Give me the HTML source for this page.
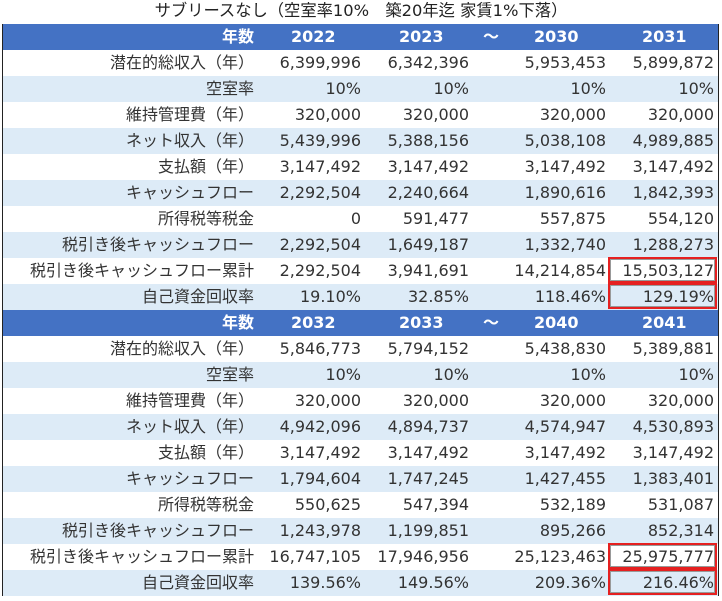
<!DOCTYPE html>
<html><head><meta charset="utf-8"><style>
body{margin:0;width:722px;height:601px;background:#fff;font-family:"DejaVu Sans","Noto Sans CJK JP",sans-serif;position:relative;overflow:hidden}
.t{position:absolute;left:0;width:722px;top:0px;text-align:center;font-size:16.3px;color:#222;line-height:21px}
.tb{position:absolute;left:2px;top:24px;width:715px;border-left:1.5px solid #222;border-right:1.5px solid #222}
.r{position:relative;height:26px;font-size:16px;line-height:26px;color:#333}
.r span{position:absolute;text-align:right;white-space:nowrap}
.a{right:calc(715px - 251px)}.b{right:calc(715px - 358px)}.c{right:calc(715px - 466px)}.d{right:calc(715px - 603px)}.e{right:calc(715px - 711px)}
.h{background:#4472C4;color:#fff;font-weight:bold}
.h span{text-align:left}
.z{background:#DDEBF7}
.box{position:absolute;border:2px solid #e52020;box-shadow:inset 0 0 0 1px #999}
</style></head><body>
<div class="t">サブリースなし（空室率10%　築20年迄 家賃1%下落）</div>
<div class="tb">
<div class="r h"><span class="a">年数</span><span style="left:288px">2022</span><span style="left:396px">2023</span><span style="left:480px">～</span><span style="left:531px">2030</span><span style="left:639px">2031</span></div>
<div class="r"><span class="a">潜在的総収入（年）</span><span class="b">6,399,996</span><span class="c">6,342,396</span><span class="d">5,953,453</span><span class="e">5,899,872</span></div>
<div class="r z"><span class="a">空室率</span><span class="b">10%</span><span class="c">10%</span><span class="d">10%</span><span class="e">10%</span></div>
<div class="r"><span class="a">維持管理費（年）</span><span class="b">320,000</span><span class="c">320,000</span><span class="d">320,000</span><span class="e">320,000</span></div>
<div class="r z"><span class="a">ネット収入（年）</span><span class="b">5,439,996</span><span class="c">5,388,156</span><span class="d">5,038,108</span><span class="e">4,989,885</span></div>
<div class="r"><span class="a">支払額（年）</span><span class="b">3,147,492</span><span class="c">3,147,492</span><span class="d">3,147,492</span><span class="e">3,147,492</span></div>
<div class="r z"><span class="a">キャッシュフロー</span><span class="b">2,292,504</span><span class="c">2,240,664</span><span class="d">1,890,616</span><span class="e">1,842,393</span></div>
<div class="r"><span class="a">所得税等税金</span><span class="b">0</span><span class="c">591,477</span><span class="d">557,875</span><span class="e">554,120</span></div>
<div class="r z"><span class="a">税引き後キャッシュフロー</span><span class="b">2,292,504</span><span class="c">1,649,187</span><span class="d">1,332,740</span><span class="e">1,288,273</span></div>
<div class="r"><span class="a">税引き後キャッシュフロー累計</span><span class="b">2,292,504</span><span class="c">3,941,691</span><span class="d">14,214,854</span><span class="e">15,503,127</span></div>
<div class="r z"><span class="a">自己資金回収率</span><span class="b">19.10%</span><span class="c">32.85%</span><span class="d">118.46%</span><span class="e">129.19%</span></div>
<div class="r h"><span class="a">年数</span><span style="left:288px">2032</span><span style="left:396px">2033</span><span style="left:480px">～</span><span style="left:531px">2040</span><span style="left:639px">2041</span></div>
<div class="r"><span class="a">潜在的総収入（年）</span><span class="b">5,846,773</span><span class="c">5,794,152</span><span class="d">5,438,830</span><span class="e">5,389,881</span></div>
<div class="r z"><span class="a">空室率</span><span class="b">10%</span><span class="c">10%</span><span class="d">10%</span><span class="e">10%</span></div>
<div class="r"><span class="a">維持管理費（年）</span><span class="b">320,000</span><span class="c">320,000</span><span class="d">320,000</span><span class="e">320,000</span></div>
<div class="r z"><span class="a">ネット収入（年）</span><span class="b">4,942,096</span><span class="c">4,894,737</span><span class="d">4,574,947</span><span class="e">4,530,893</span></div>
<div class="r"><span class="a">支払額（年）</span><span class="b">3,147,492</span><span class="c">3,147,492</span><span class="d">3,147,492</span><span class="e">3,147,492</span></div>
<div class="r z"><span class="a">キャッシュフロー</span><span class="b">1,794,604</span><span class="c">1,747,245</span><span class="d">1,427,455</span><span class="e">1,383,401</span></div>
<div class="r"><span class="a">所得税等税金</span><span class="b">550,625</span><span class="c">547,394</span><span class="d">532,189</span><span class="e">531,087</span></div>
<div class="r z"><span class="a">税引き後キャッシュフロー</span><span class="b">1,243,978</span><span class="c">1,199,851</span><span class="d">895,266</span><span class="e">852,314</span></div>
<div class="r"><span class="a">税引き後キャッシュフロー累計</span><span class="b">16,747,105</span><span class="c">17,946,956</span><span class="d">25,123,463</span><span class="e">25,975,777</span></div>
<div class="r z"><span class="a">自己資金回収率</span><span class="b">139.56%</span><span class="c">149.56%</span><span class="d">209.36%</span><span class="e">216.46%</span></div>
</div>
<div class="box" style="left:608px;top:257px;width:105px;height:22px"></div>
<div class="box" style="left:608px;top:283px;width:105px;height:22px"></div>
<div class="box" style="left:608px;top:543px;width:105px;height:22px"></div>
<div class="box" style="left:608px;top:569px;width:105px;height:22px"></div>
</body></html>
